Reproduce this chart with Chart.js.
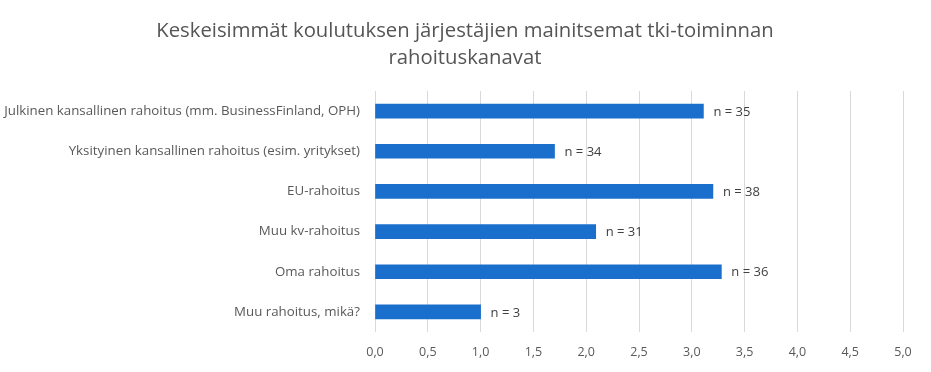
<!DOCTYPE html>
<html>
<head>
<meta charset="utf-8">
<script src="https://cdn.jsdelivr.net/npm/chart.js@4/dist/chart.umd.min.js"></script>
<style>
  html, body { margin: 0; padding: 0; background: #ffffff; }
</style>
</head>
<body>
<canvas id="fundingChart" width="931" height="372"></canvas>
<script>
// DATA
const titleLines = [
  "Keskeisimmät koulutuksen järjestäjien mainitsemat tki-toiminnan",
  "rahoituskanavat"
];
const categories = [
  "Julkinen kansallinen rahoitus (mm. BusinessFinland, OPH)",
  "Yksityinen kansallinen rahoitus (esim. yritykset)",
  "EU-rahoitus",
  "Muu kv-rahoitus",
  "Oma rahoitus",
  "Muu rahoitus, mikä?"
];
const averages = [3.11, 1.70, 3.20, 2.09, 3.28, 1.00];
const respondents = [35, 34, 38, 31, 36, 3];
const axisMin = 0;
const axisMax = 5;
const axisStep = 0.5;

// "n = xx" labels next to each bar
const nLabels = {
  id: "nLabels",
  afterDatasetsDraw(chart) {
    const ctx = chart.ctx;
    const meta = chart.getDatasetMeta(0);
    ctx.save();
    ctx.font = "13px 'Open Sans'";
    ctx.fillStyle = "#404040";
    ctx.textBaseline = "middle";
    ctx.textAlign = "left";
    meta.data.forEach((bar, i) => {
      ctx.fillText("n = " + respondents[i], bar.x + 10, bar.y + 1);
    });
    ctx.restore();
  }
};

// title centred on the whole picture, not on the padded layout box
const centredTitle = {
  id: "centredTitle",
  afterDraw(chart) {
    const ctx = chart.ctx;
    ctx.save();
    ctx.font = "20.3px 'Open Sans'";
    ctx.fillStyle = "#555555";
    ctx.textAlign = "center";
    ctx.textBaseline = "middle";
    titleLines.forEach((line, i) => {
      ctx.fillText(line, 465, 31 + i * 27);
    });
    ctx.restore();
  }
};

const ctx = document.getElementById("fundingChart");

new Chart(ctx, {
  type: "bar",
  data: {
    labels: categories,
    datasets: [
      {
        data: averages,
        backgroundColor: "#1a6fcc",
        borderWidth: 0,
        barThickness: 14
      }
    ]
  },
  options: {
    indexAxis: "y",
    responsive: false,
    animation: false,
    layout: {
      padding: { left: 0, right: 28, top: 91, bottom: 0 }
    },
    plugins: {
      legend: { display: false },
      tooltip: { enabled: false },
      title: { display: false }
    },
    scales: {
      x: {
        min: axisMin,
        max: axisMax,
        ticks: {
          stepSize: axisStep,
          color: "#595959",
          font: { family: "'Open Sans'", size: 12.5 },
          padding: 13,
          callback: v => v.toFixed(1).replace(".", ",")
        },
        grid: { color: "#d9d9d9", drawTicks: false },
        border: { display: false },
        afterFit: scale => { scale.height = 40; }
      },
      y: {
        ticks: {
          color: "#595959",
          font: { family: "'Open Sans'", size: 13.3 },
          padding: 7
        },
        grid: { display: false },
        border: { display: false },
        afterFit: scale => { scale.width = 375; }
      }
    }
  },
  plugins: [nLabels, centredTitle]
});
</script>
</body>
</html>
